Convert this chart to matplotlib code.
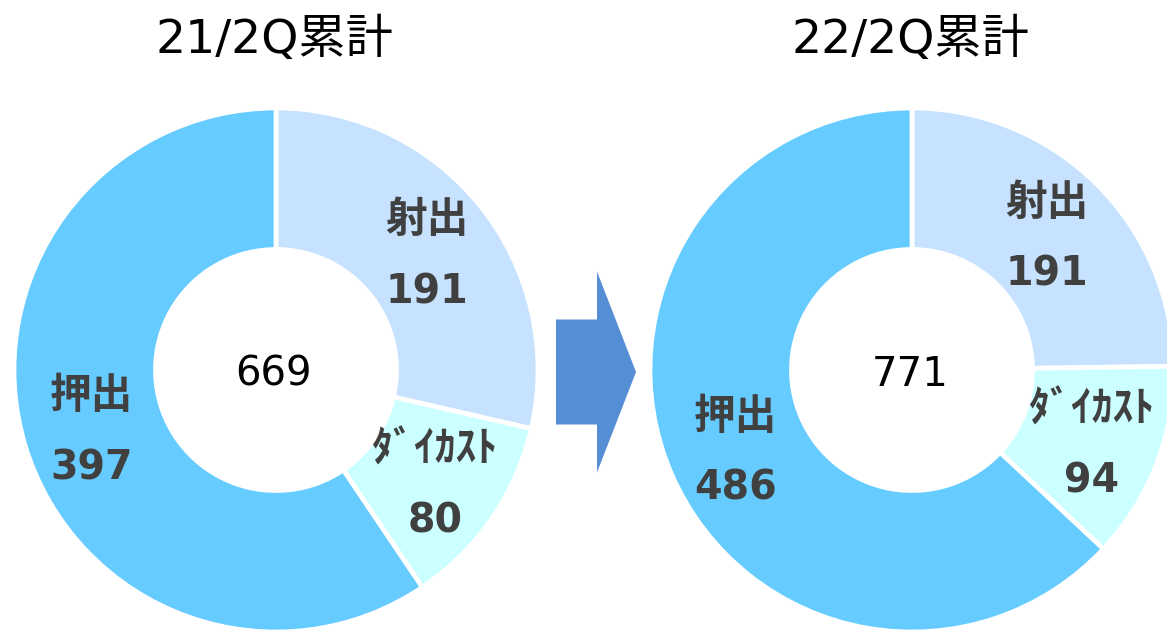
"""Two donut charts (21/2Q vs 22/2Q cumulative) with an arrow between them."""

import numpy as np
import matplotlib

matplotlib.use("Agg")
import matplotlib.pyplot as plt
from matplotlib.patches import FancyArrow

plt.rcParams["font.family"] = ["DejaVu Sans", "Noto Sans CJK JP"]
JP = ["Noto Sans CJK JP", "DejaVu Sans"]

# data
categories = ["射出", "ﾀﾞｲｶｽﾄ", "押出"]
values_21 = [191, 80, 397]
values_22 = [191, 94, 486]
totals = [669, 771]
titles = ["21/2Q累計", "22/2Q累計"]
colors = ["#C6E2FF", "#CCFFFF", "#66CCFF"]

W, H = 1167, 631
fig = plt.figure(figsize=(W / 100, H / 100), dpi=100)
ax = fig.add_axes([0, 0, 1, 1])

R = 262
centers = [(276, H - 370), (912, H - 370)]
hole = 0.46
text_col = "#404040"

for vals, total, title, (cx, cy) in zip([values_21, values_22], totals, titles, centers):
    wedges, _ = ax.pie(
        vals,
        radius=R,
        center=(cx, cy),
        startangle=90,
        counterclock=False,
        colors=colors,
        wedgeprops=dict(width=R * (1 - hole), edgecolor="white", linewidth=3.4),
    )
    for w, name, v in zip(wedges, categories, vals):
        mid = np.deg2rad((w.theta1 + w.theta2) / 2)
        lx = cx + 0.735 * R * np.cos(mid)
        ly = cy + 0.735 * R * np.sin(mid) - 5
        ax.text(lx, ly + 35, name, ha="center", va="center", fontsize=30,
                fontweight="bold", color=text_col, family=JP)
        ax.text(lx, ly - 37, str(v), ha="center", va="center", fontsize=28.5,
                fontweight="bold", color=text_col)
    ax.text(cx - 2, cy - 5, str(total), ha="center", va="center", fontsize=29, color="black")
    ax.text(cx - 2, H - 40, title, ha="center", va="center", fontsize=34, color="black")

# arrow between the two charts
ax.add_patch(FancyArrow(556, H - 372, 80, 0, width=105, head_width=201,
                        head_length=39, length_includes_head=True,
                        color="#558ED5", linewidth=0))

ax.set_xlim(0, W)
ax.set_ylim(0, H)
ax.set_aspect("equal")
ax.axis("off")

fig.savefig("out.png", dpi=100)
